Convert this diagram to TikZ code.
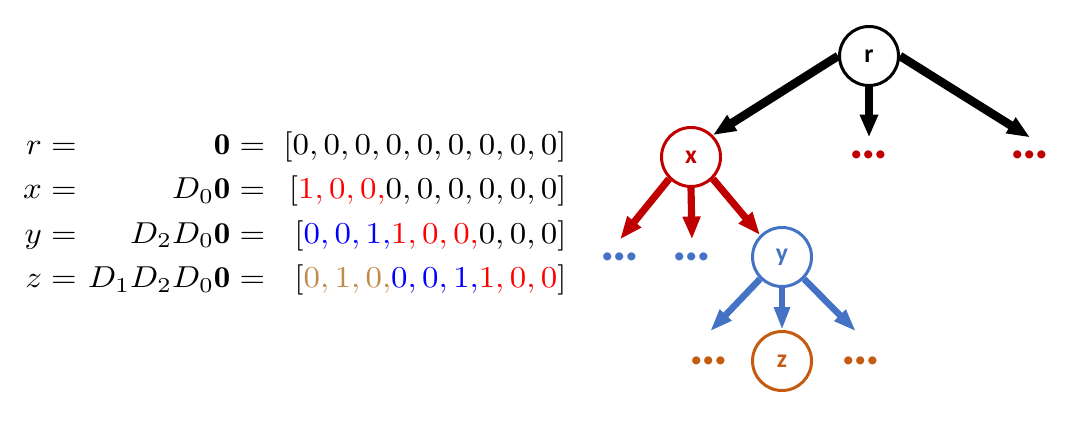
\documentclass[tikz,border=0pt]{standalone}
\usepackage{graphicx}
\usepackage{fontspec}
\newfontfamily\carlito{Carlito}
\usetikzlibrary{arrows.meta,calc}
\definecolor{xred}{HTML}{C00000}
\definecolor{yblue}{HTML}{4472C4}
\definecolor{zorange}{HTML}{C55A11}
\definecolor{vbrown}{RGB}{191,138,76}
\definecolor{vred}{RGB}{255,0,0}
\definecolor{vblue}{RGB}{0,0,255}
\begin{document}
\begin{tikzpicture}[x=0.35pt,y=-0.35pt,
  vert/.style={circle,draw,line width=1.05pt,minimum size=20.65pt,inner sep=0pt,
    font=\carlito\bfseries\fontsize{9}{11}\selectfont},
  more/.style={inner sep=0pt,minimum height=11.9pt,
    font=\carlito\bfseries\fontsize{19}{21}\selectfont},
  bedge/.style={line width=3pt,-{Triangle[length=8pt,width=6pt]}},
  redge/.style={xred,line width=2.5pt,-{Triangle[length=8pt,width=5.8pt]}},
  yedge/.style={yblue,line width=2.3pt,-{Triangle[length=8pt,width=5.2pt]}}]
\useasboundingbox (0,0) rectangle (1073,422);

\node[anchor=east,inner sep=0pt] (eq) at (567,212) {\scalebox{1.15}[1.06]{$%
\renewcommand{\arraystretch}{1.225}%
\begin{array}{@{}r@{\hspace{3.5pt}}r@{\hspace{5.6pt}}r@{}}
r = & \mathbf{0} = & [0, 0, 0, 0, 0, 0, 0, 0, 0]\\
x = & D_0\mathbf{0} = & [\textcolor{vred}{1, 0, 0,}0, 0, 0, 0, 0, 0]\\
y = & D_2D_0\mathbf{0} = & [\textcolor{vblue}{0, 0, 1,}\textcolor{vred}{1, 0, 0,}0, 0, 0]\\
z = & D_1D_2D_0\mathbf{0} = & [\textcolor{vbrown}{0, 1, 0,}\textcolor{vblue}{0, 0, 1,}\textcolor{vred}{1, 0, 0}]
\end{array}$}};

\node[vert] (r) at (869,56) {r};
\node[vert,xred] (x) at (691,157) {x};
\node[vert,yblue] (y) at (782,257) {y};
\node[vert,zorange] (z) at (782,361) {z};

\node[more,xred] (rm) at (869,155) {…};
\node[more,xred] (rr) at (1030,155) {…};
\node[more,yblue] (xl) at (620,257) {…};
\node[more,yblue] (xm) at (692,257) {…};
\node[more,zorange] (yl) at (709,361) {…};
\node[more,zorange] (yr) at (861,361) {…};

\draw[bedge] (r.west) -- (x.north east);
\draw[bedge] (r.south) -- (rm.north);
\draw[bedge] (r.east) -- (rr.north);
\draw[redge] (x.south west) -- (xl.north);
\draw[redge] (x.south) -- (xm.north);
\draw[redge] (x.south east) -- (y.north west);
\draw[yedge] (y.south west) -- ([xshift=0.35pt,yshift=4.2pt]yl.north);
\draw[yedge] (y.south) -- (z.north);
\draw[yedge] (y.south east) -- ([xshift=-1.75pt,yshift=4.2pt]yr.north);
\end{tikzpicture}
\end{document}
